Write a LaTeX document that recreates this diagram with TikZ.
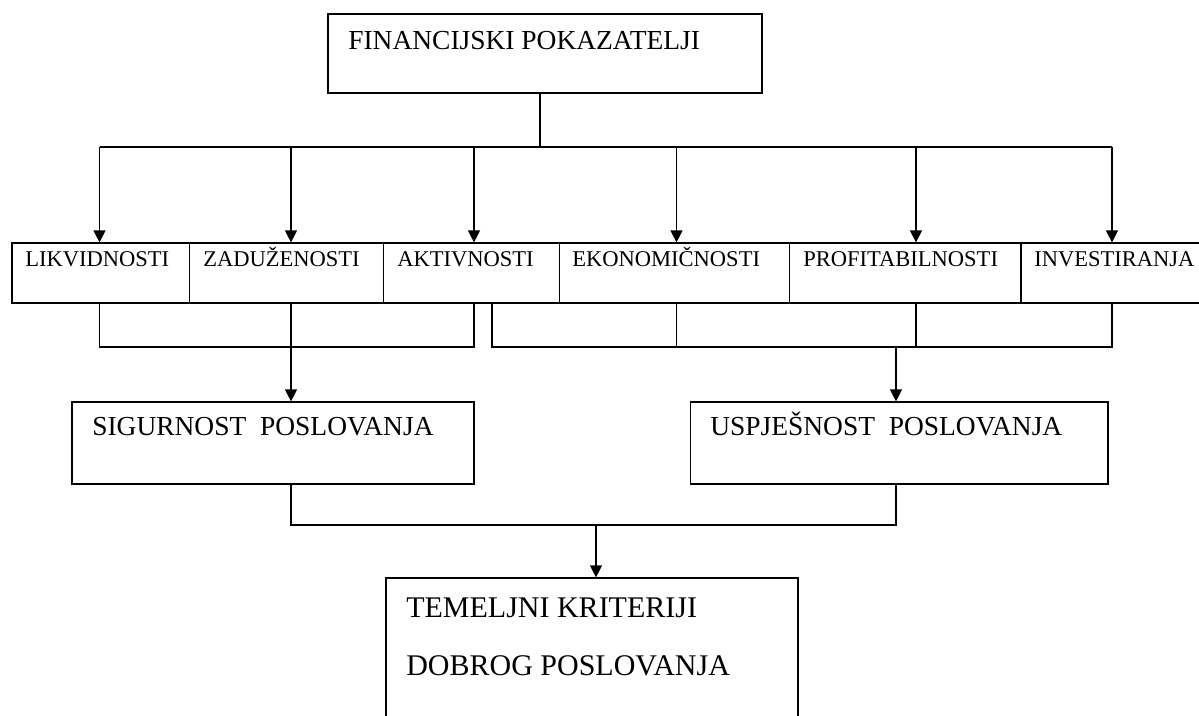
\documentclass[tikz,border=0pt]{standalone}
\usepackage{fontspec}
\setmainfont{Liberation Serif}
\usetikzlibrary{arrows.meta,calc,positioning,fit}

\tikzset{
  box/.style={draw, line width=0.9pt, inner sep=0pt},
  wire/.style={line width=0.9pt},
  arr/.style={wire, -{Triangle[length=9pt,width=9pt]}},
  rowtxt/.style={anchor=base west, inner sep=0pt, font=\fontsize{16.9pt}{20pt}\selectfont},
  midtxt/.style={anchor=base west, inner sep=0pt, font=\fontsize{20.6pt}{24pt}\selectfont},
  bigtxt/.style={anchor=base west, inner sep=0pt, font=\fontsize{22.5pt}{26pt}\selectfont}
}

\begin{document}
\begin{tikzpicture}[x=0.75pt,y=-0.75pt]
\clip (0,0) rectangle (1199,715);
% top box
\node[box, fit={(328,14) (762,93)}] (fin) {};
\node[midtxt] (finT) at (348,49) {FINANCIJSKI POKAZATELJI};
% row of ratios
\node[box, fit={(12,243) (189.5,303)}] (lik) {};
\node[box, fit={(189.5,243) (383.5,303)}] (zad) {};
\node[box, fit={(383.5,243) (559.5,303)}] (akt) {};
\node[box, fit={(559.5,243) (789.5,303)}] (eko) {};
\node[box, fit={(789.5,243) (1021,303)}] (pro) {};
\node[box, fit={(1021,243) (1210,303)}] (inv) {};
\node[rowtxt] (likT) at (25,266) {LIKVIDNOSTI};
\node[rowtxt] (zadT) at (203,266) {ZADUŽENOSTI};
\node[rowtxt] (aktT) at (397,266) {AKTIVNOSTI};
\node[rowtxt] (ekoT) at (572,266) {EKONOMIČNOSTI};
\node[rowtxt] (proT) at (803,266) {PROFITABILNOSTI};
\node[rowtxt] (invT) at (1034,266) {INVESTIRANJA};
% middle boxes
\node[box, fit={(72,402) (474,484)}] (sig) {};
\node[midtxt] (sigT) at (92,435) {SIGURNOST\ \ POSLOVANJA};
\node[box, fit={(690.5,402) (1108,484)}] (usp) {};
\node[midtxt] (uspT) at (710,435) {USPJEŠNOST\ \ POSLOVANJA};
% bottom box
\node[box, fit={(386,578) (798,740)}] (tem) {};
\node[bigtxt] (temT) at (406,617) {TEMELJNI KRITERIJI};
\node[bigtxt] (dobT) at (406,675) {DOBROG POSLOVANJA};

% bus from the top box
\coordinate (s0) at (540,147);
\coordinate (b1) at (99.5,147);
\coordinate (b2) at (291,147);
\coordinate (b3) at (474,147);
\coordinate (b4) at (676.5,147);
\coordinate (b5) at (916,147);
\coordinate (b6) at (1112,147);
\draw[wire] (s0 |- fin.south) -- (s0);
\draw[wire] (b1) -- (b6);
\foreach \b/\c in {b1/lik,b2/zad,b3/akt,b4/eko,b5/pro,b6/inv}
  \draw[arr] (\b) -- (\b |- \c.north);

% left group
\coordinate (l1) at (99.5,347);
\coordinate (l2) at (291,347);
\coordinate (l3) at (474,347);
\draw[wire] (l1 |- lik.south) -- (l1) -- (l3) -- (l3 |- akt.south);
\draw[wire] (l2 |- zad.south) -- (l2);
\draw[arr] (l2) -- (l2 |- sig.north);

% right group
\coordinate (r1) at (492,347);
\coordinate (r2) at (676.5,347);
\coordinate (r3) at (916,347);
\coordinate (r4) at (1112,347);
\coordinate (r0) at (896,347);
\draw[wire] (r1 |- akt.south) -- (r1) -- (r4) -- (r4 |- inv.south);
\draw[wire] (r2 |- eko.south) -- (r2);
\draw[wire] (r3 |- pro.south) -- (r3);
\draw[arr] (r0) -- (r0 |- usp.north);

% join to the bottom box
\coordinate (j1) at (291,525);
\coordinate (j2) at (896,525);
\coordinate (j0) at (596,525);
\draw[wire] (j1 |- sig.south) -- (j1) -- (j2) -- (j2 |- usp.south);
\draw[arr] (j0) -- (j0 |- tem.north);
\end{tikzpicture}
\end{document}
